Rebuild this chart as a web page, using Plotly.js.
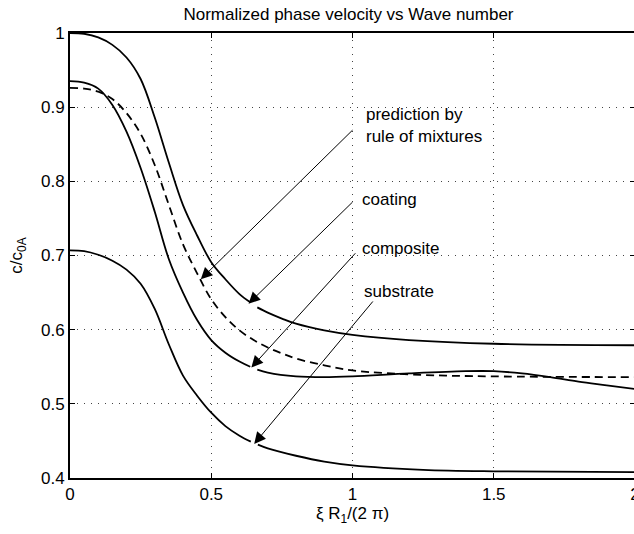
<!DOCTYPE html>
<html>
<head>
<meta charset="utf-8">
<script src="https://cdn.plot.ly/plotly-3.0.1.min.js"></script>
<style>
html,body{margin:0;padding:0;overflow:hidden;background:#fff;}
#chart{width:640px;height:534px;}
</style>
</head>
<body>
<div id="chart"></div>
<script>
// ---- data (null = small gap where an arrow tip touches the curve) ----
const coatingX   = [0, 0.05, 0.10, 0.15, 0.20, 0.25, 0.30, 0.35, 0.40, 0.45, 0.50, 0.55, 0.60, 0.638, 0.65, 0.663, 0.70, 0.75, 0.80, 0.90, 1.0, 1.2, 1.5, 2.0];
const coatingY   = [1.0, 0.999, 0.994, 0.984, 0.967, 0.938, 0.886, 0.825, 0.768, 0.727, 0.691, 0.668, 0.648, 0.637, null, 0.630, 0.623, 0.615, 0.608, 0.599, 0.593, 0.586, 0.581, 0.579];

const compositeX = [0, 0.05, 0.10, 0.15, 0.20, 0.25, 0.30, 0.35, 0.40, 0.45, 0.50, 0.55, 0.60, 0.638, 0.65, 0.663, 0.70, 0.80, 0.90, 1.0, 1.2, 1.4, 1.5, 1.6, 1.7, 1.8, 1.9, 2.0];
const compositeY = [0.935, 0.933, 0.925, 0.903, 0.867, 0.818, 0.759, 0.695, 0.650, 0.613, 0.586, 0.569, 0.557, 0.550, null, 0.546, 0.542, 0.537, 0.536, 0.537, 0.541, 0.544, 0.544, 0.541, 0.536, 0.530, 0.525, 0.520];

const mixturesX  = [0, 0.05, 0.10, 0.15, 0.20, 0.25, 0.30, 0.35, 0.40, 0.45, 0.50, 0.55, 0.60, 0.65, 0.70, 0.75, 0.80, 0.90, 1.0, 1.25, 1.5, 2.0];
const mixturesY  = [0.926, 0.925, 0.921, 0.911, 0.892, 0.864, 0.822, 0.768, 0.715, 0.676, 0.641, 0.617, 0.599, 0.586, 0.576, 0.568, 0.561, 0.552, 0.545, 0.539, 0.537, 0.536];

const substrateX = [0, 0.05, 0.10, 0.15, 0.20, 0.25, 0.30, 0.35, 0.40, 0.45, 0.50, 0.55, 0.60, 0.64, 0.652, 0.665, 0.70, 0.80, 0.90, 1.0, 1.25, 1.5, 2.0];
const substrateY = [0.707, 0.706, 0.701, 0.693, 0.681, 0.662, 0.628, 0.580, 0.538, 0.511, 0.488, 0.470, 0.457, 0.449, null, 0.445, 0.440, 0.430, 0.422, 0.417, 0.411, 0.409, 0.408];

const xTicks = [0, 0.5, 1, 1.5, 2];
const xTickText = ['0', '0.5', '1', '1.5', '2'];
const yTicks = [0.4, 0.5, 0.6, 0.7, 0.8, 0.9, 1];
const yTickText = ['0.4', '0.5', '0.6', '0.7', '0.8', '0.9', '1'];

// annotation labels and their arrows
const labelTexts = ['prediction by<br>rule of mixtures', 'coating', 'composite', 'substrate'];
const labelX     = [1.039, 1.025, 1.025, 1.032];
const labelY     = [0.875, 0.776, 0.710, 0.651];
const tailX      = [1.0, 1.0, 1.01, 1.072];
const tailY      = [0.869, 0.772, 0.703, 0.638];
const headX      = [0.463, 0.632, 0.642, 0.652];
const headY      = [0.668, 0.635, 0.549, 0.446];

const FONT = 'Liberation Sans, Arial, Helvetica, sans-serif';

function solid(x, y) {
  return {x: x, y: y, type: 'scatter', mode: 'lines', connectgaps: false,
    line: {color: '#000', width: 1.8, shape: 'spline', smoothing: 1},
    hoverinfo: 'skip', showlegend: false};
}
const traces = [
  solid(coatingX, coatingY),
  solid(compositeX, compositeY),
  solid(substrateX, substrateY),
  {x: mixturesX, y: mixturesY, type: 'scatter', mode: 'lines',
   line: {color: '#000', width: 1.8, dash: '8px,5px', shape: 'spline', smoothing: 1},
   hoverinfo: 'skip', showlegend: false}
];

const annotations = [];
for (let i = 0; i < labelTexts.length; i++) {
  annotations.push({
    x: headX[i], y: headY[i], xref: 'x', yref: 'y',
    ax: tailX[i], ay: tailY[i], axref: 'x', ayref: 'y',
    text: '', borderpad: 0, borderwidth: 0,
    showarrow: true, arrowhead: 2, arrowsize: 2.3, arrowwidth: 1, arrowcolor: '#000'
  });
  annotations.push({
    x: labelX[i], y: labelY[i], xref: 'x', yref: 'y',
    text: labelTexts[i], showarrow: false,
    xanchor: 'left', yanchor: 'middle', align: 'left',
    font: {family: FONT, size: 17, color: '#000'}
  });
}

const axisCommon = {
  showline: true, linecolor: '#000', linewidth: 2, mirror: 'ticks',
  ticks: 'inside', ticklen: 5, tickwidth: 1, tickcolor: '#000',
  showgrid: true, gridcolor: '#444', gridwidth: 1, griddash: '1px,6px',
  zeroline: false, tickfont: {family: FONT, size: 17, color: '#000'}
};

const layout = {
  width: 640, height: 534,
  margin: {l: 70, r: 5, t: 33, b: 56},
  paper_bgcolor: '#fff', plot_bgcolor: '#fff',
  font: {family: FONT, color: '#000'},
  title: {text: 'Normalized phase velocity vs Wave number',
    font: {family: FONT, size: 17, color: '#000'},
    x: 348.5 / 640, xref: 'container', xanchor: 'center',
    y: 1 - 14 / 534, yref: 'container', yanchor: 'middle'},
  xaxis: Object.assign({}, axisCommon, {
    range: [0, 2], tickvals: xTicks, ticktext: xTickText,
    title: {text: 'ξ R<sub>1</sub>/(2 π)', font: {family: FONT, size: 17, color: '#000'}, standoff: 0}
  }),
  yaxis: Object.assign({}, axisCommon, {
    range: [0.4, 1], tickvals: yTicks, ticktext: yTickText,
    title: {text: 'c/c<sub>0A</sub>', font: {family: FONT, size: 17, color: '#000'}, standoff: 14}
  }),
  annotations: annotations
};

Plotly.newPlot('chart', traces, layout, {staticPlot: true, displayModeBar: false});
</script>
</body>
</html>
